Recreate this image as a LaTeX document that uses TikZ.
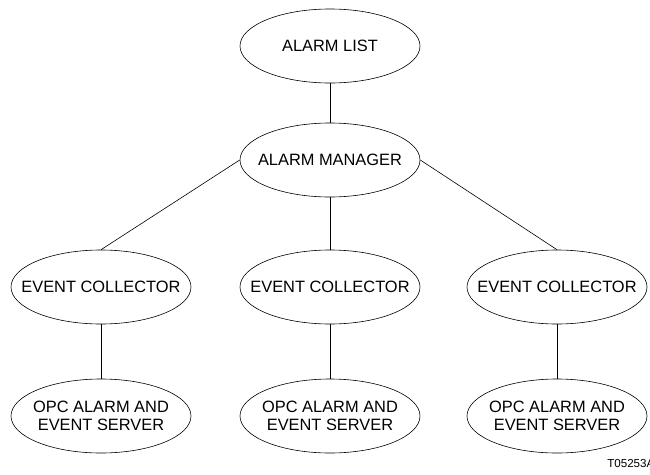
\documentclass[tikz,border=0pt]{standalone}
\usepackage{fontspec}
\setmainfont{Liberation Sans}
\usetikzlibrary{shapes.geometric}

\tikzset{
  bubble/.style={draw, ellipse, minimum width=180pt, minimum height=74pt,
    inner xsep=-16pt, inner ysep=0pt, align=center,
    font=\fontsize{16.4}{18.3}\selectfont}
}

\begin{document}
\begin{tikzpicture}[x=1pt, y=-1pt, line width=0.6pt]
  \useasboundingbox (0,0) rectangle (650,474);
  \coordinate (L) at (330,46);
  \coordinate (M) at (330,160);

  \node[bubble] (list) at (L) {ALARM LIST};
  \node[bubble] (manager) at (M) {ALARM MANAGER};
  \draw (list) -- (manager);

  \foreach \x/\n/\side in {
    101/1/west,
    330/2/south,
    557/3/east}{
    \node[bubble] (coll\n) at (\x,287) {EVENT COLLECTOR};
    \node[bubble] (server\n) at (\x,416) {OPC ALARM AND\\EVENT SERVER};
    \draw (manager.\side) -- (coll\n.north);
    \draw (coll\n.south) -- (server\n.north);
  }

  \node[anchor=base west, inner sep=0pt, font=\fontsize{11.6}{13}\selectfont] (tag) at (607,467) {T05253A};
\end{tikzpicture}
\end{document}
